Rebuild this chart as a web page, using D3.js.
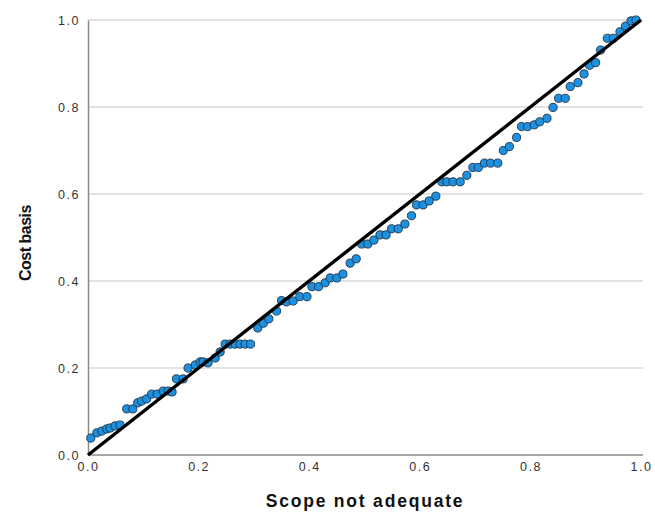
<!DOCTYPE html>
<html>
<head>
<meta charset="utf-8">
<script src="https://cdn.jsdelivr.net/npm/d3@7"></script>
<style>
  body { margin: 0; background: #fff; }
  #content { width: 655px; height: 514px; }
</style>
</head>
<body>
<div id="content"></div>
<script>
// observed cumulative prob (x) vs expected cumulative prob (y)
var obs = [0.005, 0.016, 0.025, 0.034, 0.040, 0.049, 0.058, 0.070, 0.081, 0.090,
  0.097, 0.106, 0.115, 0.125, 0.136, 0.145, 0.152, 0.160, 0.172, 0.181,
  0.194, 0.203, 0.208, 0.217, 0.230, 0.239, 0.248, 0.257, 0.266, 0.275,
  0.284, 0.294, 0.307, 0.317, 0.327, 0.341, 0.350, 0.359, 0.371, 0.383,
  0.396, 0.405, 0.417, 0.429, 0.438, 0.450, 0.461, 0.474, 0.485, 0.495,
  0.506, 0.517, 0.528, 0.539, 0.549, 0.561, 0.573, 0.585, 0.594, 0.606,
  0.617, 0.629, 0.640, 0.649, 0.660, 0.673, 0.685, 0.696, 0.706, 0.717,
  0.728, 0.741, 0.751, 0.762, 0.775, 0.784, 0.795, 0.807, 0.817, 0.830,
  0.841, 0.851, 0.863, 0.872, 0.886, 0.897, 0.907, 0.918, 0.927, 0.939,
  0.950, 0.962, 0.972, 0.982, 0.991];
var expd = [0.039, 0.051, 0.055, 0.060, 0.062, 0.067, 0.069, 0.106, 0.106, 0.120,
  0.124, 0.129, 0.140, 0.140, 0.147, 0.147, 0.145, 0.175, 0.175, 0.200,
  0.207, 0.214, 0.214, 0.212, 0.223, 0.237, 0.255, 0.255, 0.255, 0.255,
  0.255, 0.255, 0.292, 0.303, 0.313, 0.331, 0.355, 0.352, 0.354, 0.364,
  0.364, 0.387, 0.387, 0.396, 0.407, 0.407, 0.416, 0.441, 0.451, 0.485,
  0.485, 0.494, 0.506, 0.506, 0.520, 0.520, 0.531, 0.550, 0.575, 0.575,
  0.584, 0.595, 0.628, 0.628, 0.628, 0.628, 0.643, 0.661, 0.661, 0.671,
  0.671, 0.671, 0.700, 0.709, 0.730, 0.755, 0.755, 0.759, 0.766, 0.774,
  0.799, 0.820, 0.820, 0.847, 0.856, 0.876, 0.896, 0.902, 0.931, 0.958,
  0.958, 0.973, 0.986, 0.998, 1.000];
var ticks = [0.0, 0.2, 0.4, 0.6, 0.8, 1.0];

var width = 655, height = 514;
var margin = {left: 88, right: 12, top: 20, bottom: 59};

var svg = d3.select('div#content').append('svg')
  .attr('width', width)
  .attr('height', height);

var x = d3.scaleLinear().domain([0, 1]).range([margin.left, 641]);
var y = d3.scaleLinear().domain([0, 1]).range([height - margin.bottom, margin.top]);

// gridlines
svg.append('g')
  .selectAll('line')
  .data(ticks.slice(1))
  .enter()
  .append('line')
  .attr('x1', margin.left)
  .attr('x2', width - margin.right)
  .attr('y1', function(d){ return y(d); })
  .attr('y2', function(d){ return y(d); })
  .attr('stroke', '#d9d9d9')
  .attr('stroke-width', 1.5);

// axes
var xAxis = svg.append('g')
  .attr('transform', 'translate(0,' + y(0) + ')')
  .call(d3.axisBottom(x).tickValues(ticks).tickFormat(d3.format('.1f')).tickSize(0).tickPadding(7));
xAxis.select('.domain').attr('d', 'M' + margin.left + ',0H' + (width - margin.right)).attr('stroke', '#8a8a8a').attr('stroke-width', 1.5);

var yAxis = svg.append('g')
  .attr('transform', 'translate(' + margin.left + ',0)')
  .call(d3.axisLeft(y).tickValues(ticks).tickFormat(d3.format('.1f')).tickSize(0).tickPadding(8));
yAxis.select('.domain').attr('stroke', '#8a8a8a').attr('stroke-width', 1.5);

svg.selectAll('.tick text')
  .attr('font-family', 'Liberation Sans, Arial, sans-serif')
  .attr('font-size', '12.5px')
  .attr('letter-spacing', '1.5px')
  .attr('fill', '#333');

// points
svg.append('g')
  .selectAll('circle')
  .data(obs)
  .enter()
  .append('circle')
  .attr('cx', function(d){ return x(d); })
  .attr('cy', function(d, i){ return y(expd[i]); })
  .attr('r', 4.1)
  .attr('fill', '#1e90e0')
  .attr('stroke', '#1d3347')
  .attr('stroke-width', 0.9);

// reference line
svg.append('line')
  .attr('x1', x(0)).attr('y1', y(0))
  .attr('x2', x(1)).attr('y2', y(1))
  .attr('stroke', '#000')
  .attr('stroke-width', 3.4);

// titles
svg.append('text')
  .attr('x', 365)
  .attr('y', 507)
  .attr('text-anchor', 'middle')
  .attr('font-family', 'Liberation Sans, Arial, sans-serif')
  .attr('font-weight', 'bold')
  .attr('font-size', '17.5px')
  .attr('letter-spacing', '1.8px')
  .attr('fill', '#111')
  .text('Scope not adequate');

svg.append('text')
  .attr('transform', 'translate(31,243) rotate(-90)')
  .attr('text-anchor', 'middle')
  .attr('font-family', 'Liberation Sans, Arial, sans-serif')
  .attr('font-weight', 'bold')
  .attr('font-size', '16px')
  .attr('letter-spacing', '-0.5px')
  .attr('fill', '#111')
  .text('Cost basis');
</script>
</body>
</html>
